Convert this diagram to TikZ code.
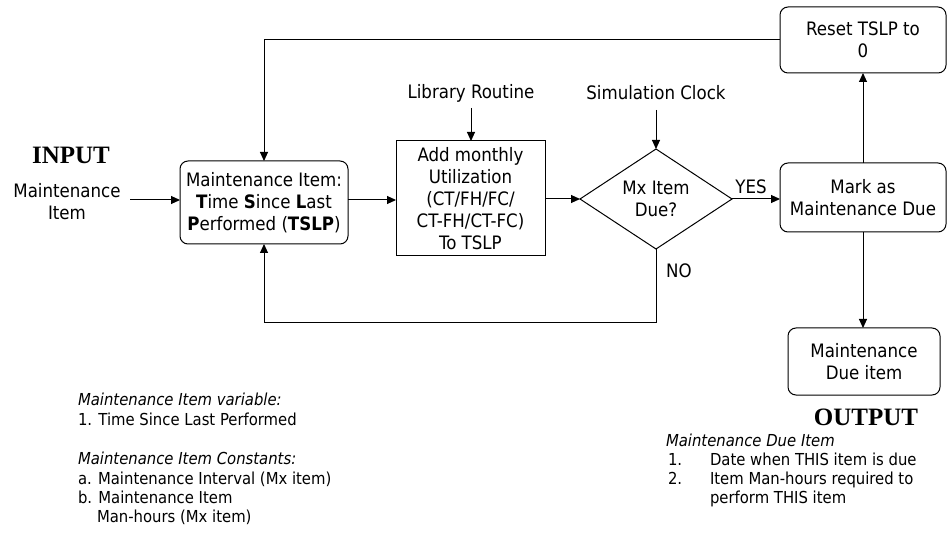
\documentclass[tikz,border=0pt]{standalone}
\usepackage{fontspec}
\setmainfont{DejaVu Sans Condensed}
\newfontfamily\titlefont{Liberation Serif}
\usetikzlibrary{shapes.geometric,arrows.meta}
\begin{document}
\begin{tikzpicture}[x=1pt,y=-1pt,
  every node/.style={inner sep=0pt,outer sep=0pt},
  bigtxt/.style={font=\fontsize{18.5}{22}\selectfont,align=center},
  smalltxt/.style={font=\fontsize{16.5}{20}\selectfont,anchor=base west},
  rbox/.style={draw,line width=1pt,rounded corners=8pt,bigtxt},
  sbox/.style={draw,line width=1pt,bigtxt},
  dia/.style={draw,line width=1pt,diamond,aspect=1.52,bigtxt},
  arr/.style={line width=1pt,-{Triangle[length=9pt,width=8pt]}},
  title/.style={font=\titlefont\bfseries\fontsize{25}{28}\selectfont}]
\useasboundingbox (0,0) rectangle (947,534);

\node[title] (input) at (71,155) {INPUT};
\node[bigtxt] (initem) at (67,202) {Maintenance\\Item};

\node[rbox,minimum width=168pt,minimum height=83pt] (box1) at (264,202.5)
  {Maintenance Item:\\\textbf{T}ime \textbf{S}ince \textbf{L}ast\\\textbf{P}erformed (\textbf{TSLP})};
\node[sbox,minimum width=149pt,minimum height=115pt] (box2) at (470.5,198.5)
  {Add monthly\\Utilization\\(CT/FH/FC/\\CT-FH/CT-FC)\\To TSLP};
\node[bigtxt] (lib) at (471,93) {Library Routine};
\node[bigtxt] (clock) at (656,93) {Simulation Clock};
\node[dia,minimum width=152pt,minimum height=100pt] (diam) at (656,199) {Mx Item\\Due?};
\node[rbox,minimum width=166pt,minimum height=69pt] (mark) at (863,197.5)
  {Mark as\\Maintenance Due};
\node[rbox,minimum width=166pt,minimum height=66pt] (reset) at (863,40)
  {Reset TSLP to\\0};
\node[rbox,minimum width=152pt,minimum height=67pt] (due) at (864,361.5)
  {Maintenance\\Due item};
\node[title] (output) at (866,417) {OUTPUT};

\node[bigtxt] (yes) at (751,187) {YES};
\node[bigtxt] (no) at (679,271) {NO};

\coordinate (initemr) at (130,200);
\coordinate (libb) at (471,108);
\coordinate (clockb) at (656,110);
\coordinate (nocorner) at (656,323);

\draw[arr] (initemr) -- (box1.west |- initemr);
\draw[arr] (box1.east |- initemr) -- (box2.west |- initemr);
\draw[arr] (libb) -- (box2.north -| libb);
\draw[arr] (box2.east |- diam.west) -- (diam.west);
\draw[arr] (clockb) -- (diam.north);
\draw[arr] (diam.east) -- (mark.west |- diam.east);
\draw[arr] (mark.north) -- (reset.south);
\draw[arr] (mark.south) -- (due.north -| mark.south);
\draw[arr] (reset.west) -| (box1.north);
\draw[arr] (diam.south) -- (nocorner) -| (box1.south);

% notes left
\node[smalltxt] (n1) at (78,405) {\itshape Maintenance Item variable:};
\node[smalltxt] (n2) at (78,425) {1. Time Since Last Performed};
\node[smalltxt] (n3) at (78,464) {\itshape Maintenance Item Constants:};
\node[smalltxt] (n4) at (78,484) {a. Maintenance Interval (Mx item)};
\node[smalltxt] (n5) at (78,503) {b. Maintenance Item};
\node[smalltxt] (n6) at (97,522) {Man-hours (Mx item)};

% notes right
\node[smalltxt] (m1) at (666,446) {\itshape Maintenance Due Item};
\node[smalltxt] (m2) at (668,465) {1.};
\node[smalltxt] (m3) at (710,465) {Date when THIS item is due};
\node[smalltxt] (m4) at (668,484) {2.};
\node[smalltxt] (m5) at (710,484) {Item Man-hours required to};
\node[smalltxt] (m6) at (710,503) {perform THIS item};
\end{tikzpicture}
\end{document}
